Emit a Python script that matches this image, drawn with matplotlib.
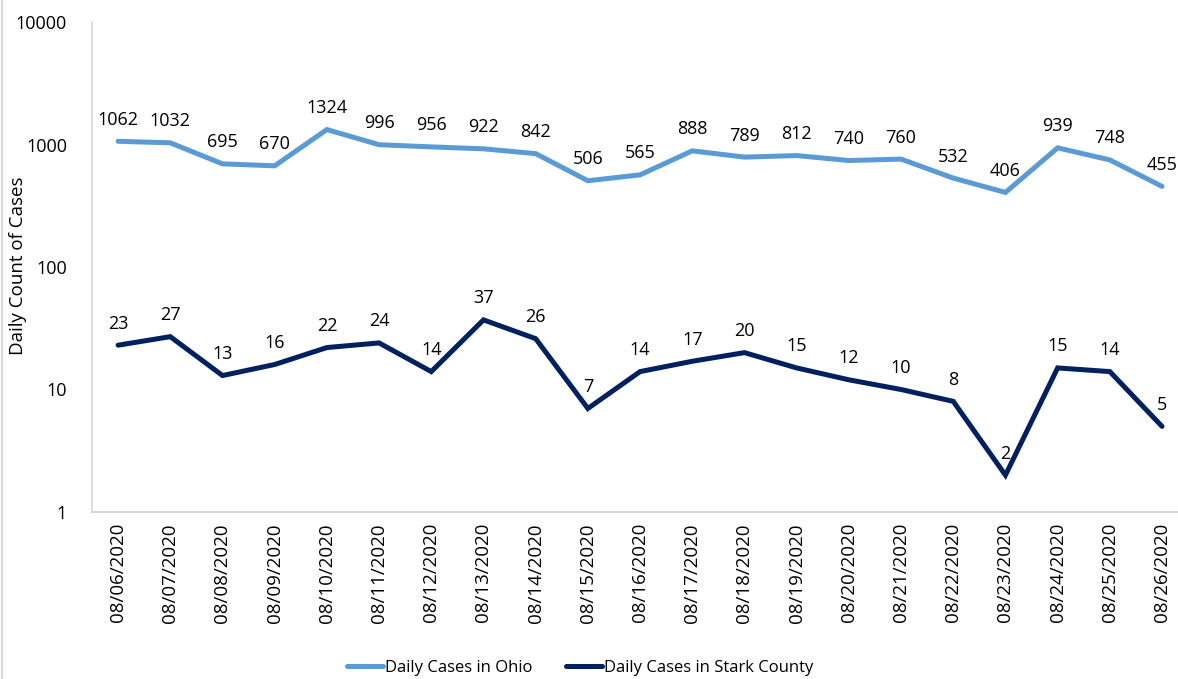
import matplotlib
matplotlib.use("Agg")
import matplotlib.pyplot as plt
from matplotlib.lines import Line2D

plt.rcParams['font.family'] = ['Open Sans', 'DejaVu Sans']

dates = ["08/06/2020", "08/07/2020", "08/08/2020", "08/09/2020", "08/10/2020",
         "08/11/2020", "08/12/2020", "08/13/2020", "08/14/2020", "08/15/2020",
         "08/16/2020", "08/17/2020", "08/18/2020", "08/19/2020", "08/20/2020",
         "08/21/2020", "08/22/2020", "08/23/2020", "08/24/2020", "08/25/2020",
         "08/26/2020"]
ohio = [1062, 1032, 695, 670, 1324, 996, 956, 922, 842, 506, 565, 888, 789,
        812, 740, 760, 532, 406, 939, 748, 455]
stark = [23, 27, 13, 16, 22, 24, 14, 37, 26, 7, 14, 17, 20, 15, 12, 10, 8, 2,
         15, 14, 5]
yticks = [1, 10, 100, 1000, 10000]

W, H = 1178, 679
fig = plt.figure(figsize=(W / 100, H / 100), dpi=100)
ax = fig.add_axes([92 / W, 1 - 512 / H, (W - 92) / W, (512 - 22) / H])

x = list(range(len(dates)))
c_ohio = "#5B9BD5"
c_stark = "#002060"
ax.plot(x, ohio, color=c_ohio, lw=3.6, solid_capstyle='round',
        solid_joinstyle='miter', label="Daily Cases in Ohio")
ax.plot(x, stark, color=c_stark, lw=3.6, solid_capstyle='round',
        solid_joinstyle='miter', label="Daily Cases in Stark County")

for xi, v in zip(x, ohio):
    ax.annotate(str(v), (xi, v), xytext=(0, 9), textcoords='offset points',
                ha='center', va='bottom', fontsize=13, color='#000000')
for xi, v in zip(x, stark):
    ax.annotate(str(v), (xi, v), xytext=(0, 9), textcoords='offset points',
                ha='center', va='bottom', fontsize=13, color='#000000')

ax.set_yscale('log')
ax.set_ylim(1, 10000)
ax.set_yticks(yticks)
ax.set_yticklabels([str(t) for t in yticks], fontsize=13)
ax.yaxis.set_minor_locator(matplotlib.ticker.NullLocator())
ax.set_xlim(-0.5, 20.306)
ax.set_xticks(x)
ax.set_xticklabels(dates, rotation=90, fontsize=13.5)
ax.tick_params(axis='both', length=0)
ax.tick_params(axis='y', pad=18)
ax.tick_params(axis='x', pad=8)

for s in ['top', 'right']:
    ax.spines[s].set_visible(False)
ax.spines['left'].set_color('#D9D9D9')
ax.spines['bottom'].set_color('#D0D0D0')
ax.spines['left'].set_linewidth(1.2)
ax.spines['bottom'].set_linewidth(1.2)

fig.text(18 / W, 1 - 266 / H, "Daily Count of Cases", rotation=90,
         ha='center', va='center', fontsize=13.5)

fig.add_artist(Line2D([2 / W, 2 / W], [0, 1], color='#D9D9D9', lw=1.5,
                      transform=fig.transFigure))

fig.legend(loc='center', bbox_to_anchor=(580 / W, 1 - 668 / H), ncol=2,
           frameon=False, fontsize=12, handlelength=2.2, handletextpad=0.1,
           columnspacing=2.0)

fig.savefig("out.png", dpi=100)
